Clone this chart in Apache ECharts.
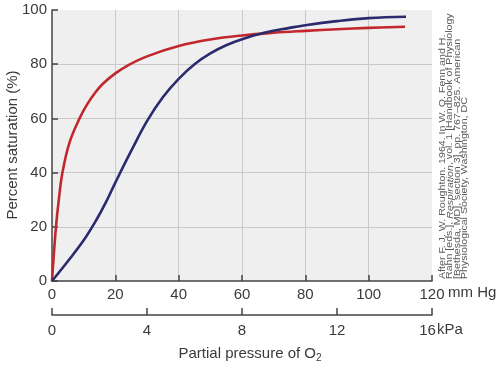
<!DOCTYPE html>
<html><head><meta charset="utf-8">
<script src="https://cdn.jsdelivr.net/npm/echarts@6/dist/echarts.min.js"></script>
<style>html,body{margin:0;padding:0;background:#fff}#c{width:498px;height:368px}</style>
</head><body><div id="c"></div>
<script>
// mm Hg values and percent saturation
var redX = [0, 0.5, 1.26, 2.1, 3.3, 5.5, 8.7, 11, 13.5, 16, 20, 24, 30, 40, 50, 60, 70, 80, 90, 100, 111.5];
var redY = [0, 8.5, 20, 29.5, 40, 51, 60, 65, 69.3, 72.7, 76.6, 79.6, 82.9, 86.7, 89.1, 90.6, 91.6, 92.3, 92.9, 93.4, 93.8];
var blueX = [0, 5, 10, 14, 17, 20, 25, 30, 35, 40, 45, 50, 55, 60, 67, 75, 80, 90, 100, 111.8];
var blueY = [0, 7.3, 15, 22.5, 29, 36.3, 48, 59, 67.8, 74.6, 80, 84, 87, 89.2, 91.6, 93.4, 94.4, 95.9, 97, 97.5];
var mmHgTicks = [0, 20, 40, 60, 80, 100, 120];
var kPaTicks = [0, 4, 8, 12, 16];
var citation = [
  'After F. J. W. Roughton. 1964. In W. O. Fenn and H.',
  'Rahn [eds.], {i|Respiration}, vol. 1 [Handbook of Physiology',
  '[Bethesda, MD], section 3], pp. 767\u2013825. American',
  'Physiological Society, Washington, DC'
];

function pairs(xs, ys){ return xs.map(function(x,i){ return [x, ys[i]]; }); }

var FONT = 'Liberation Sans, Arial, sans-serif';
var TXT = '#3a3a3a';
var AX = '#444';

var chart = echarts.init(document.getElementById('c'), null, {renderer:'canvas'});
var graphics = [
  {type:'text', x:448, y:293, style:{text:'mm Hg', font:'15px ' + FONT, fill:TXT, textAlign:'left', textVerticalAlign:'middle'}},
  {type:'text', x:437, y:330, style:{text:'kPa', font:'15px ' + FONT, fill:TXT, textAlign:'left', textVerticalAlign:'middle'}},
  {type:'text', x:250, y:354, style:{text:'Partial pressure of O{s|2}', font:'15px ' + FONT, fill:TXT, textAlign:'center', textVerticalAlign:'middle',
     rich:{s:{fontSize:10, fontFamily:FONT, fill:TXT, padding:[8,0,0,0]}}}},
  {type:'text', x:13, y:145, rotation:Math.PI/2, style:{text:'Percent saturation (%)', font:'15px ' + FONT, fill:TXT, textAlign:'center', textVerticalAlign:'middle'}}
];
var lineX = [442.5, 450, 457.5, 465];
citation.forEach(function(t, i){
  graphics.push({type:'text', x:lineX[i], y:279, rotation:Math.PI/2, scaleX:1.18,
    style:{text:t, font:'9px ' + FONT, fill:'#5a5a5a', textAlign:'left', textVerticalAlign:'middle',
      rich:{i:{fontStyle:'italic', fontSize:9, fontFamily:FONT, fill:'#5a5a5a'}}}});
});

chart.setOption({
  animation:false,
  textStyle:{fontFamily:FONT},
  grid:[
    {left:52, right:66, top:10, height:271, show:true, backgroundColor:'#efefef', borderWidth:0, containLabel:false, outerBoundsMode:'none'},
    {left:52, right:66, top:305, height:10, show:false, containLabel:false, outerBoundsMode:'none'}
  ],
  xAxis:[
    {type:'value', gridIndex:0, min:0, max:120, interval:20,
     axisLine:{show:true, lineStyle:{color:AX, width:1.5}},
     axisTick:{show:true, inside:true, length:6, lineStyle:{color:AX, width:1.5}},
     axisLabel:{margin:6, fontSize:15, color:TXT, fontFamily:FONT, showMinLabel:true, showMaxLabel:true},
     splitLine:{show:true, showMinLine:false, showMaxLine:false, lineStyle:{color:'#c9c9c9', width:1}}},
    {type:'value', gridIndex:1, position:'bottom', min:0, max:16, interval:4,
     axisLine:{show:true, lineStyle:{color:AX, width:1.5}},
     axisTick:{show:true, inside:true, length:7, lineStyle:{color:AX, width:1.5}},
     axisLabel:{margin:8, fontSize:15, color:TXT, fontFamily:FONT, showMinLabel:true, showMaxLabel:true,
       formatter:function(v){ return v === 16 ? '{a|16}' : String(v); },
       rich:{a:{fontSize:15, color:TXT, fontFamily:FONT, padding:[0,9,0,0]}}},
     splitLine:{show:false}}
  ],
  yAxis:[
    {type:'value', gridIndex:0, min:0, max:100, interval:20,
     axisLine:{show:true, lineStyle:{color:AX, width:1.5}},
     axisTick:{show:true, inside:true, length:6, lineStyle:{color:AX, width:1.5}},
     axisLabel:{margin:5, fontSize:15, color:TXT, fontFamily:FONT},
     splitLine:{show:true, showMinLine:false, showMaxLine:false, lineStyle:{color:'#c9c9c9', width:1}}},
    {type:'value', gridIndex:1, show:false, min:0, max:1}
  ],
  series:[
    {type:'line', xAxisIndex:0, yAxisIndex:0, data:pairs(redX, redY), smooth:0.4, showSymbol:false,
     lineStyle:{color:'#c1272d', width:2.6}, z:3},
    {type:'line', xAxisIndex:0, yAxisIndex:0, data:pairs(blueX, blueY), smooth:0.4, showSymbol:false,
     lineStyle:{color:'#2b2a6e', width:2.6}, z:4}
  ],
  graphic:graphics
});
</script></body></html>
